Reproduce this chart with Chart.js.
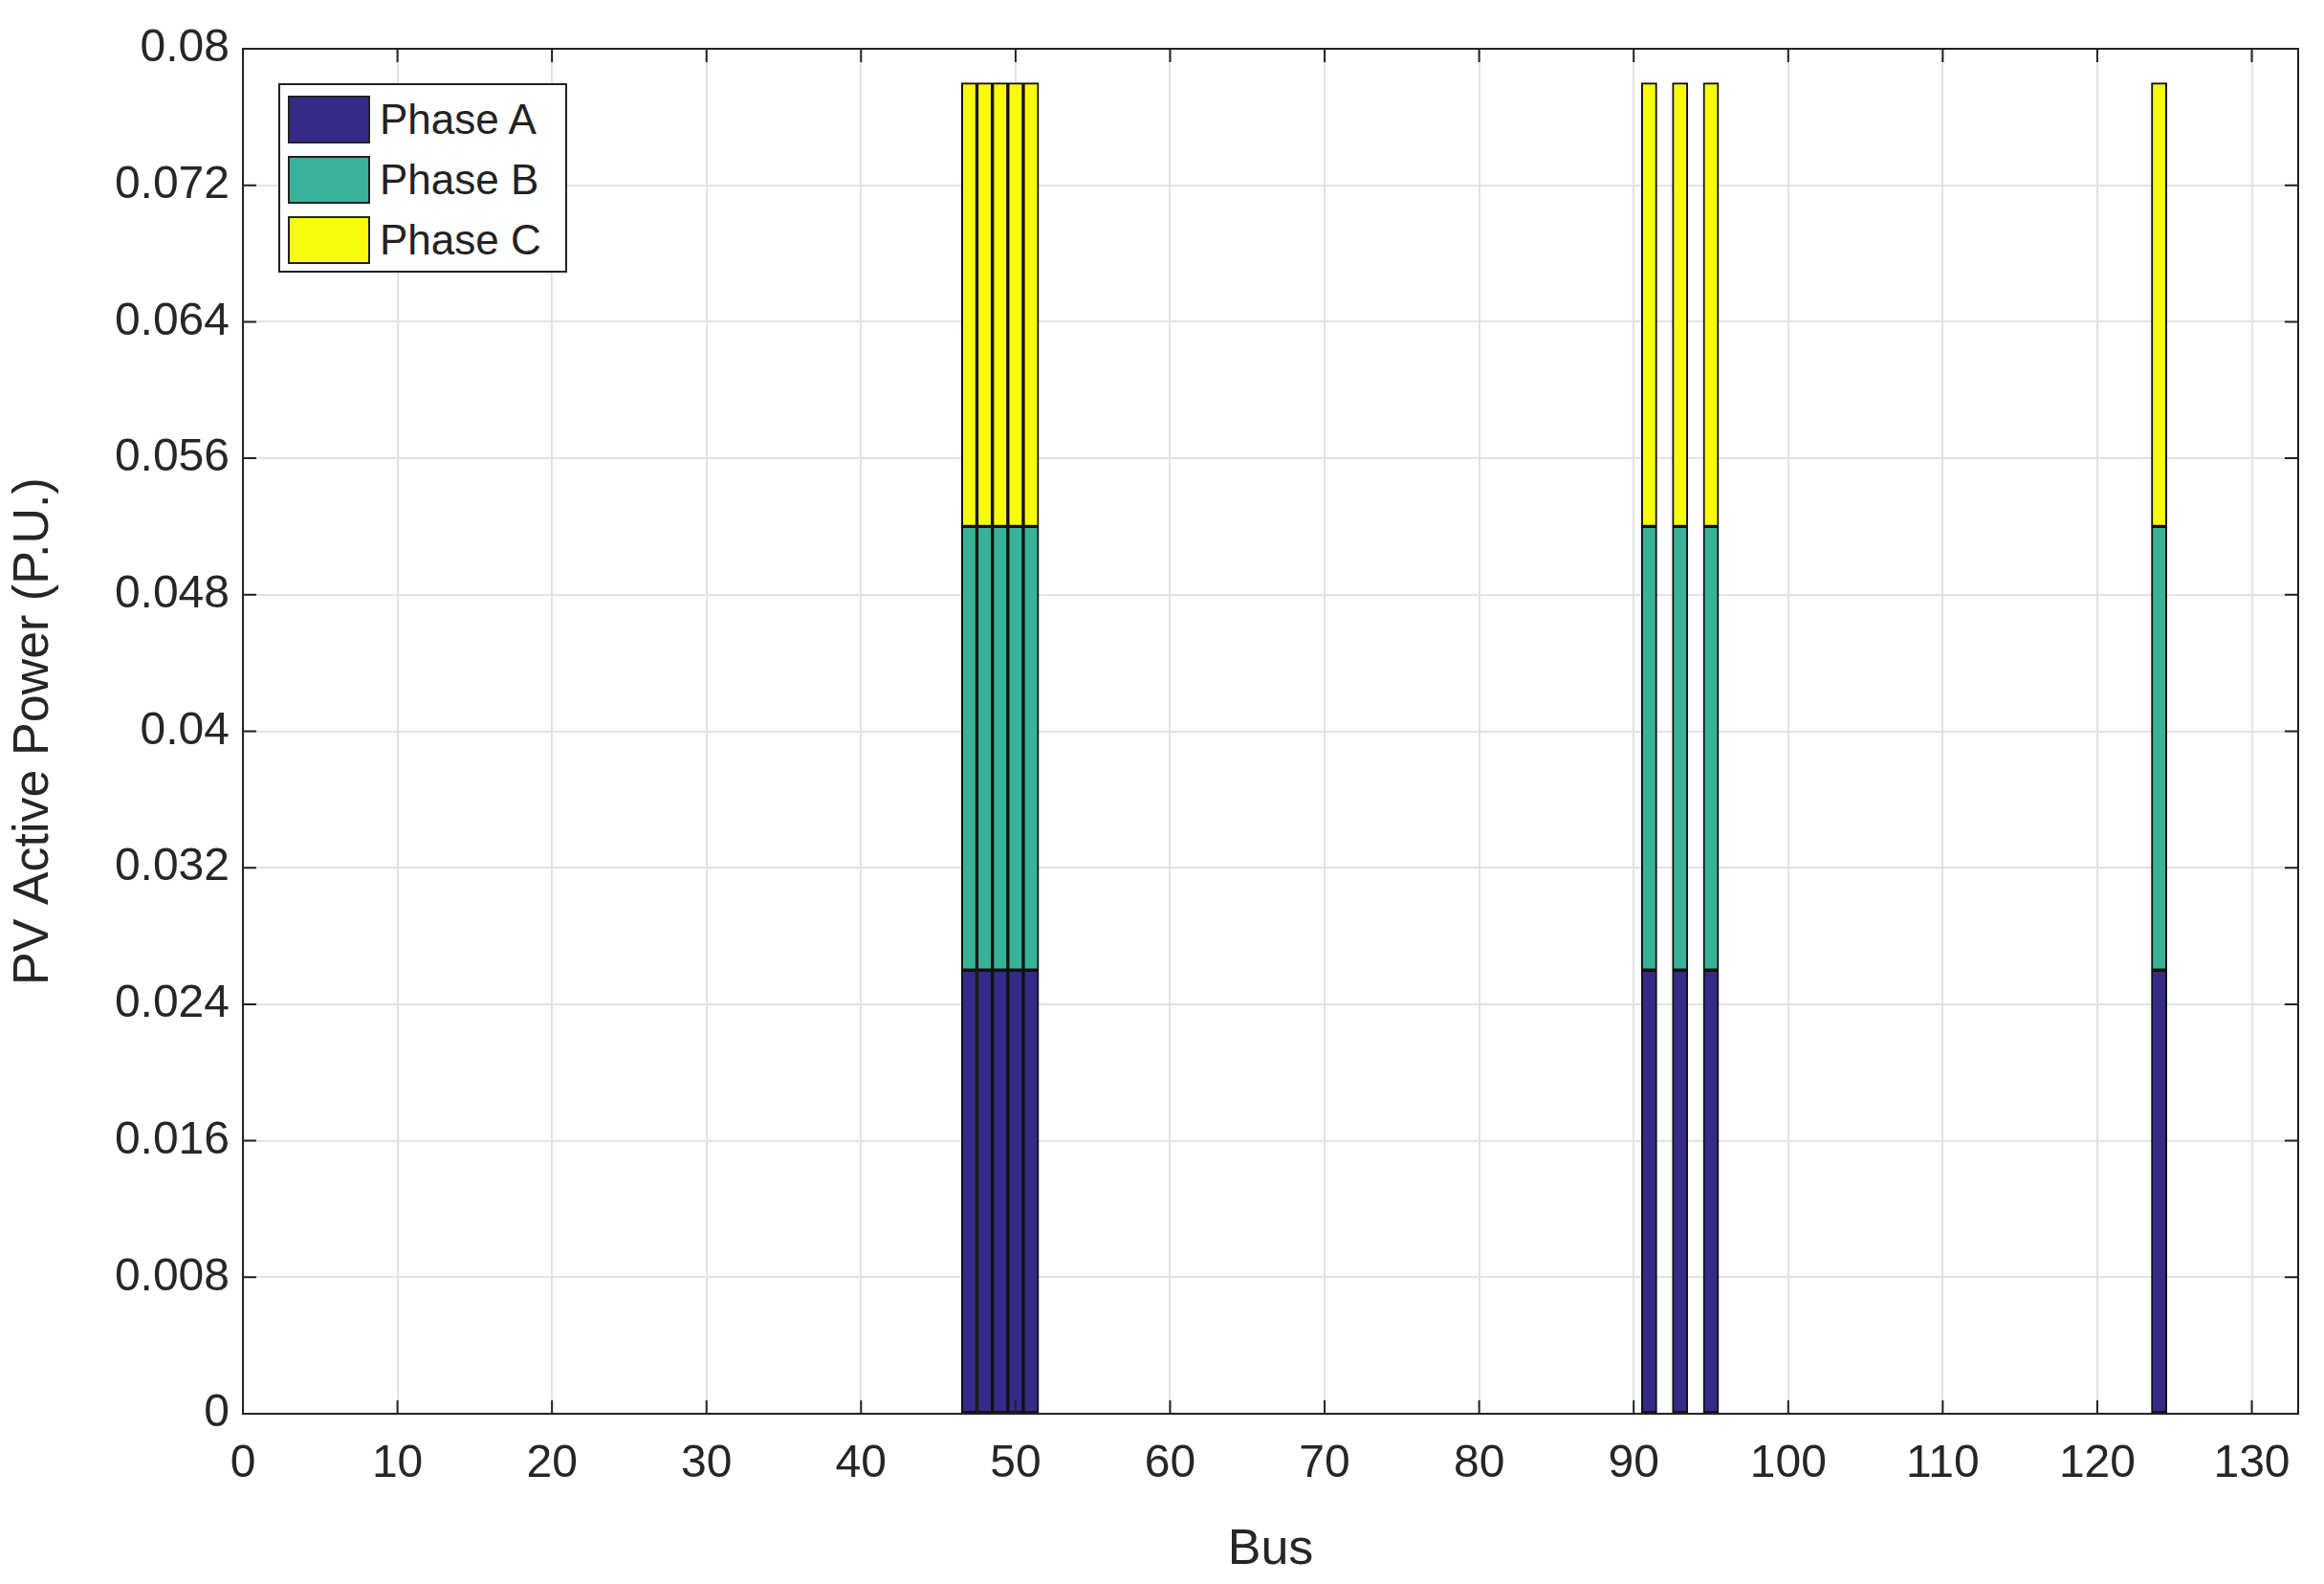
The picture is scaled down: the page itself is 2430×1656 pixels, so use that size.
<!DOCTYPE html>
<html>
<head>
<meta charset="utf-8">
<script src="https://cdn.jsdelivr.net/npm/chart.js@4/dist/chart.umd.min.js"></script>
<style>
  html, body { margin: 0; padding: 0; background: #fff; }
  #wrap { position: relative; width: 2430px; height: 1656px; }
  #legend {
    position: absolute; left: 291px; top: 87px; width: 302px; height: 198px;
    border: 2px solid #222; background: #fff; box-sizing: border-box;
    font-family: 'Liberation Sans', Arial, sans-serif; font-size: 44px; color: #222;
  }
  .item { position: absolute; left: 8px; height: 56px; display: flex; align-items: center; }
  .sw { width: 86px; height: 50px; border: 2px solid #222; box-sizing: border-box; margin-right: 10px; }
</style>
</head>
<body>
<div id="wrap">
  <canvas id="c" width="2430" height="1656"></canvas>
  <div id="legend">
    <div class="item" style="top:8px"><div class="sw" style="background:#352a87"></div>Phase A</div>
    <div class="item" style="top:71px"><div class="sw" style="background:#38b39a"></div>Phase B</div>
    <div class="item" style="top:134px"><div class="sw" style="background:#f9fb0e"></div>Phase C</div>
  </div>
</div>
<script>
  // --- Data ---
  var buses = [47, 48, 49, 50, 51, 91, 93, 95, 124];
  var phaseA = [0.026, 0.026, 0.026, 0.026, 0.026, 0.026, 0.026, 0.026, 0.026];
  var phaseB = [0.026, 0.026, 0.026, 0.026, 0.026, 0.026, 0.026, 0.026, 0.026];
  var phaseC = [0.026, 0.026, 0.026, 0.026, 0.026, 0.026, 0.026, 0.026, 0.026];
  var xTicks = [0, 10, 20, 30, 40, 50, 60, 70, 80, 90, 100, 110, 120, 130];
  var yTicks = [0, 0.008, 0.016, 0.024, 0.032, 0.04, 0.048, 0.056, 0.064, 0.072, 0.08];

  var FONT = "'Liberation Sans', Arial, sans-serif";

  function pts(vals) {
    return buses.map(function (b, i) { return { x: b, y: vals[i] }; });
  }

  function ds(label, vals, color) {
    return {
      label: label, data: pts(vals), backgroundColor: color,
      borderColor: '#111', borderWidth: 2, borderSkipped: false,
      barPercentage: 1, categoryPercentage: 1
    };
  }

  // box with inward ticks on all sides
  var boxPlugin = {
    id: 'box',
    afterDraw: function (chart) {
      var a = chart.chartArea, c = chart.ctx;
      var xs = chart.scales.x, ys = chart.scales.y;
      c.save();
      c.strokeStyle = '#222';
      c.lineWidth = 2;
      c.strokeRect(a.left, a.top, a.right - a.left, a.bottom - a.top);
      c.beginPath();
      xTicks.forEach(function (v) {
        var p = xs.getPixelForValue(v);
        c.moveTo(p, a.bottom); c.lineTo(p, a.bottom - 14);
        c.moveTo(p, a.top); c.lineTo(p, a.top + 14);
      });
      yTicks.forEach(function (v) {
        var p = ys.getPixelForValue(v);
        c.moveTo(a.left, p); c.lineTo(a.left + 14, p);
        c.moveTo(a.right, p); c.lineTo(a.right - 14, p);
      });
      c.stroke();
      c.restore();
    }
  };

  new Chart(document.getElementById('c'), {
    type: 'bar',
    data: {
      datasets: [
        ds('Phase A', phaseA, '#352a87'),
        ds('Phase B', phaseB, '#38b39a'),
        ds('Phase C', phaseC, '#f9fb0e')
      ]
    },
    options: {
      responsive: false,
      animation: false,
      devicePixelRatio: 1,
      layout: { padding: { top: 51, right: 27, left: 0, bottom: 0 } },
      plugins: { legend: { display: false }, tooltip: { enabled: false } },
      scales: {
        x: {
          type: 'linear', stacked: true, min: 0, max: 133, offset: false,
          afterBuildTicks: function (s) { s.ticks = xTicks.map(function (v) { return { value: v }; }); },
          afterFit: function (s) { s.height = 178; },
          grid: { color: '#e3e3e3', lineWidth: 2, drawTicks: false, offset: false },
          border: { display: false },
          ticks: { color: '#262626', font: { family: FONT, size: 48 }, padding: 24, maxRotation: 0 },
          title: { display: true, text: 'Bus', color: '#262626', font: { family: FONT, size: 52 }, padding: { top: 0 } }
        },
        y: {
          stacked: true, min: 0, max: 0.08,
          afterBuildTicks: function (s) { s.ticks = yTicks.map(function (v) { return { value: v }; }); },
          afterFit: function (s) { s.width = 254; },
          grid: { color: '#e3e3e3', lineWidth: 2, drawTicks: false },
          border: { display: false },
          ticks: {
            color: '#262626', font: { family: FONT, size: 48 }, padding: 14,
            callback: function (v) { return parseFloat(v.toFixed(3)).toString(); }
          },
          title: { display: true, text: 'PV Active Power (P.U.)', color: '#262626', font: { family: FONT, size: 52 }, padding: { bottom: 4 } }
        }
      }
    },
    plugins: [boxPlugin]
  });
</script>
</body>
</html>
